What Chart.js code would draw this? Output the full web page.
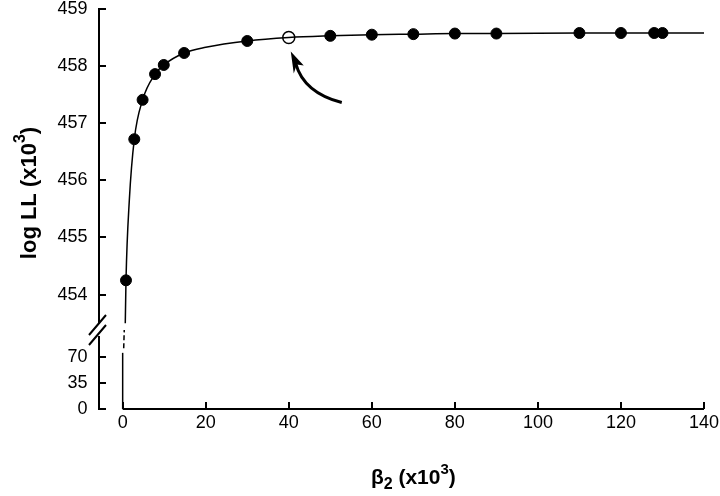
<!DOCTYPE html>
<html lang="en">
<head>
<meta charset="UTF-8">
<title>log LL vs beta2</title>
<style>
  body { margin: 0; background: #fff; }
  #wrap { width: 720px; height: 496px; }
</style>
</head>
<body>
<div id="wrap"><canvas id="chart"></canvas></div>
<script src="https://cdn.jsdelivr.net/npm/chart.js"></script>
<script>
// values, both axes in units of 10^3
var markerX = [0.8, 2.8, 4.8, 7.8, 9.9, 14.8, 30, 50, 60, 70, 80, 90, 110, 120, 128, 130];
var markerY = [454.25, 456.72, 457.41, 457.86, 458.02, 458.23, 458.44, 458.53, 458.55, 458.56, 458.57, 458.57, 458.58, 458.58, 458.58, 458.58];
var openX = [40];
var openY = [458.50];

// fitted curve (upper part of the broken axis)
var curveX = [0.63, 0.8, 1.6, 2.8, 4.8, 7.8, 9.9, 14.8, 20, 30, 40, 50, 60, 70, 80, 90, 110, 120, 130, 140];
var curveY = [453.5, 454.25, 455.65, 456.72, 457.41, 457.86, 458.02, 458.23, 458.33, 458.44, 458.50, 458.53, 458.55, 458.56, 458.57, 458.57, 458.58, 458.58, 458.58, 458.58];

// curve below the break
var lowSolidX = [0, 0];
var lowSolidY = [0, 75];
var lowDashX = [0.25, 0.4];
var lowDashY = [81, 109];

var xTicks = [0, 20, 40, 60, 80, 100, 120, 140];
var topTicks = [454, 455, 456, 457, 458, 459];
var lowTicks = [0, 35, 70];

var FONT = "'Liberation Sans', Arial, sans-serif";

function pts(xs, ys) {
    return xs.map(function(x, i) { return {x: x, y: ys[i]}; });
}

// draw a run of text pieces (for sub/superscripts), centred on 0
function drawPieces(ctx, pieces) {
    var total = 0;
    pieces.forEach(function(p) {
        ctx.font = 'bold ' + p.size + 'px ' + FONT;
        p.w = ctx.measureText(p.t).width;
        total += p.w;
    });
    var x = -total / 2;
    pieces.forEach(function(p) {
        ctx.font = 'bold ' + p.size + 'px ' + FONT;
        ctx.fillText(p.t, x, -(p.rise || 0));
        x += p.w;
    });
}

var extras = {
    id: 'extras',
    afterDraw: function(chart) {
        var ctx = chart.ctx;
        var xs = chart.scales.x, yt = chart.scales.yTop, yb = chart.scales.yBot;
        ctx.save();
        ctx.strokeStyle = '#000';
        ctx.fillStyle = '#000';

        // x axis line only from 0 to 140
        ctx.lineWidth = 2;
        ctx.beginPath();
        ctx.moveTo(xs.getPixelForValue(xTicks[0]), xs.top);
        ctx.lineTo(xs.getPixelForValue(xTicks[xTicks.length - 1]), xs.top);
        ctx.stroke();

        // axis break
        var ax = yt.right, b = yb.top;
        ctx.fillStyle = '#fff';
        ctx.fillRect(ax - 3, b - 6, 6, 12);
        ctx.fillStyle = '#000';
        ctx.lineWidth = 2;
        ctx.beginPath();
        ctx.moveTo(ax + 7, b - 15); ctx.lineTo(ax - 10, b + 5);
        ctx.moveTo(ax + 7, b - 5); ctx.lineTo(ax - 10, b + 15);
        ctx.stroke();

        // curved arrow pointing at the open circle
        var px = xs.getPixelForValue(openX[0]), py = yt.getPixelForValue(openY[0]);
        ctx.lineWidth = 3;
        ctx.beginPath();
        ctx.moveTo(px + 53, py + 65);
        ctx.quadraticCurveTo(px + 15, py + 55, px + 7, py + 26);
        ctx.stroke();
        ctx.beginPath();
        ctx.moveTo(px + 2, py + 14);
        ctx.lineTo(px + 5, py + 36);
        ctx.lineTo(px + 8, py + 27);
        ctx.lineTo(px + 15, py + 28);
        ctx.closePath();
        ctx.fill();

        // axis titles
        ctx.textBaseline = 'middle';
        ctx.textAlign = 'left';
        ctx.save();
        ctx.translate((xs.getPixelForValue(0) + xs.getPixelForValue(140)) / 2, chart.height - 18);
        drawPieces(ctx, [
            {t: '\u03b2', size: 21},
            {t: '2', size: 16, rise: -7},
            {t: ' (x10', size: 21},
            {t: '3', size: 15, rise: 8},
            {t: ')', size: 21}
        ]);
        ctx.restore();
        ctx.save();
        ctx.translate(30, yt.top + 184);
        ctx.rotate(-Math.PI / 2);
        drawPieces(ctx, [
            {t: 'log LL (x10', size: 22},
            {t: '3', size: 16, rise: 9},
            {t: ')', size: 22}
        ]);
        ctx.restore();
        ctx.restore();
    }
};

var tickFont = {family: FONT, size: 18};

new Chart(document.getElementById('chart'), {
    type: 'scatter',
    data: {
        datasets: [
            {
                data: pts(curveX, curveY), yAxisID: 'yTop', showLine: true,
                borderColor: '#000', borderWidth: 1.5, pointRadius: 0,
                cubicInterpolationMode: 'monotone'
            },
            {
                data: pts(lowSolidX, lowSolidY), yAxisID: 'yBot', showLine: true,
                borderColor: '#000', borderWidth: 1.5, pointRadius: 0
            },
            {
                data: pts(lowDashX, lowDashY), yAxisID: 'yBot', showLine: true,
                borderColor: '#000', borderWidth: 1.5, pointRadius: 0, borderDash: [5, 3]
            },
            {
                data: pts(markerX, markerY), yAxisID: 'yTop',
                backgroundColor: '#000', borderColor: '#000', borderWidth: 1, pointRadius: 5.5
            },
            {
                data: pts(openX, openY), yAxisID: 'yTop',
                backgroundColor: '#fff', borderColor: '#000', borderWidth: 1.5, pointRadius: 6
            }
        ]
    },
    options: {
        responsive: true,
        maintainAspectRatio: false,
        animation: false,
        layout: {padding: {top: 9, right: 16, left: 0, bottom: 0}},
        plugins: {legend: {display: false}, tooltip: {enabled: false}},
        scales: {
            x: {
                type: 'linear', position: 'bottom', min: -5.7, max: 140,
                afterBuildTicks: function(s) { s.ticks = xTicks.map(function(v) { return {value: v}; }); },
                afterFit: function(s) { s.height = 87; s.paddingLeft = 0; s.paddingRight = 0; },
                border: {display: false},
                grid: {drawOnChartArea: false, tickLength: -7, lineWidth: 2, color: '#000'},
                ticks: {color: '#000', font: tickFont, padding: 10, maxRotation: 0, autoSkip: false}
            },
            // the scale defined last is stacked on top
            yBot: {
                type: 'linear', position: 'left', stack: 'y', stackWeight: 79,
                min: 0, max: 105.5,
                afterBuildTicks: function(s) { s.ticks = lowTicks.map(function(v) { return {value: v}; }); },
                afterFit: function(s) { s.width = 99; s.paddingTop = 0; s.paddingBottom = 0; },
                border: {color: '#000', width: 2},
                grid: {drawOnChartArea: false, tickLength: -7, lineWidth: 2, color: '#000'},
                ticks: {color: '#000', font: tickFont, padding: 18.5, autoSkip: false}
            },
            yTop: {
                type: 'linear', position: 'left', stack: 'y', stackWeight: 321,
                min: 453.38, max: 459,
                afterBuildTicks: function(s) { s.ticks = topTicks.map(function(v) { return {value: v}; }); },
                afterFit: function(s) { s.width = 99; s.paddingTop = 0; s.paddingBottom = 0; },
                border: {color: '#000', width: 2},
                grid: {drawOnChartArea: false, tickLength: -7, lineWidth: 2, color: '#000'},
                ticks: {color: '#000', font: tickFont, padding: 18.5, autoSkip: false}
            }
        }
    },
    plugins: [extras]
});
</script>
</body>
</html>
